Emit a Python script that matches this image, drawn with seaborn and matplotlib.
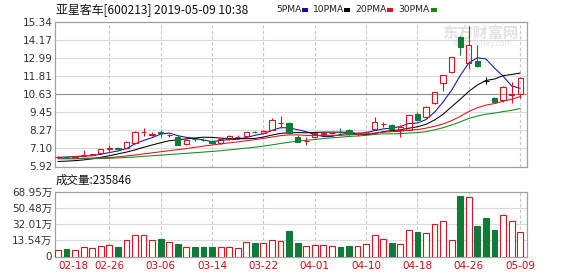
import numpy as np
import pandas as pd
import matplotlib
matplotlib.use("Agg")
import matplotlib.pyplot as plt
from matplotlib.patches import Rectangle
import seaborn as sns

sns.set_theme(style="white")
plt.rcParams["font.family"] = ["DejaVu Sans", "Noto Sans CJK SC"]

# ---------------- data ----------------
dates = ['02-18','02-19','02-20','02-21','02-22','02-25','02-26','02-27','02-28','03-01',
         '03-04','03-05','03-06','03-07','03-08','03-11','03-12','03-13','03-14','03-15',
         '03-18','03-19','03-20','03-21','03-22','03-25','03-26','03-27','03-28','03-29',
         '04-01','04-02','04-03','04-04','04-08','04-09','04-10','04-11','04-12','04-15',
         '04-16','04-17','04-18','04-19','04-22','04-23','04-24','04-25','04-26','04-29',
         '04-30','05-06','05-07','05-08','05-09']

open_ = [6.54,6.56,6.56,6.62,6.68,6.77,7.08,7.12,7.10,7.47,
         8.17,8.00,8.14,7.95,7.82,7.38,7.70,7.66,7.60,7.43,
         7.69,7.85,7.90,8.17,8.08,8.30,8.75,8.77,7.82,7.58,
         7.86,8.05,8.10,8.17,8.30,8.03,8.15,8.34,8.68,8.62,
         8.30,8.32,9.34,9.15,10.06,11.37,12.09,14.38,12.68,12.81,
         11.50,10.39,10.26,10.58,10.65]
high = [6.62,6.60,6.62,6.99,6.76,7.06,7.31,7.20,7.58,8.24,
        8.41,8.15,8.30,8.05,7.95,7.70,7.80,7.75,7.66,7.72,
        7.95,7.96,8.20,8.25,8.30,9.05,9.22,8.85,7.95,7.83,
        8.12,8.15,8.18,8.41,8.35,8.20,8.25,9.12,8.84,8.70,
        8.60,9.30,9.47,9.85,10.78,11.89,13.08,14.45,15.10,13.86,
        11.76,10.45,11.14,11.44,11.75]
low = [6.50,6.50,6.52,6.60,6.64,6.74,6.88,7.00,7.06,7.45,
       7.90,7.90,7.86,7.85,7.30,7.35,7.55,7.55,7.40,7.40,
       7.65,7.78,7.85,8.08,8.05,8.28,8.43,8.02,7.50,7.33,
       7.80,8.00,8.05,7.97,8.00,7.90,8.10,8.30,8.47,8.30,
       7.86,8.28,8.90,9.10,10.00,10.85,12.00,13.20,12.29,12.40,
       11.30,10.13,10.13,10.06,10.39]
close = [6.55,6.54,6.60,6.70,6.72,7.03,7.10,7.08,7.53,8.19,
         8.19,8.03,8.12,7.97,7.32,7.64,7.69,7.64,7.43,7.69,
         7.90,7.86,8.15,8.15,8.25,8.95,8.77,8.08,7.53,7.60,
         8.08,8.08,8.12,8.15,8.04,8.08,8.19,8.84,8.69,8.36,
         8.52,9.25,8.95,9.80,10.78,11.89,13.07,13.73,13.86,12.48,
         11.50,10.13,11.11,10.65,11.70]

ma5 = [6.52,6.54,6.57,6.60,6.62,6.72,6.83,6.93,7.09,7.39,7.62,7.80,8.03,8.10,7.93,7.82,7.75,7.65,
       7.54,7.62,7.67,7.70,7.81,7.95,8.06,8.27,8.45,8.44,8.32,8.19,8.01,7.87,7.88,8.01,8.09,8.09,
       8.12,8.26,8.37,8.43,8.52,8.73,8.75,8.98,9.46,10.13,10.90,11.85,12.67,13.01,12.93,12.34,
       11.82,11.17,11.02]
ma10 = [6.25,6.27,6.30,6.35,6.42,6.52,6.62,6.74,6.86,7.00,7.17,7.32,7.47,7.60,7.66,7.72,7.78,7.83,
        7.82,7.77,7.74,7.73,7.73,7.75,7.84,7.97,8.08,8.12,8.13,8.12,8.14,8.16,8.16,8.16,8.14,8.05,
        8.00,8.07,8.19,8.26,8.31,8.42,8.51,8.67,8.95,9.33,9.82,10.30,10.82,11.23,11.53,11.62,
        11.84,11.92,12.01]
ma20 = [6.45,6.45,6.45,6.46,6.47,6.48,6.50,6.55,6.61,6.67,6.74,6.81,6.88,6.95,7.02,7.09,7.17,7.25,
        7.32,7.39,7.46,7.52,7.60,7.67,7.75,7.84,7.93,7.98,7.98,7.95,7.94,7.95,7.95,7.95,7.99,8.01,
        8.04,8.10,8.16,8.19,8.22,8.29,8.33,8.42,8.54,8.69,8.91,9.19,9.50,9.75,9.92,10.02,10.17,
        10.30,10.48]
ma30 = [6.42,6.42,6.42,6.43,6.43,6.44,6.45,6.48,6.51,6.54,6.58,6.62,6.66,6.70,6.74,6.78,6.82,6.86,
        6.90,6.95,7.00,7.06,7.12,7.18,7.25,7.33,7.42,7.50,7.57,7.63,7.68,7.74,7.79,7.83,7.88,7.91,
        7.95,8.01,8.05,8.05,8.06,8.10,8.13,8.19,8.31,8.45,8.63,8.83,9.05,9.21,9.33,9.40,9.50,
        9.58,9.70]

volume = [2.8,3.1,2.8,6.2,4.3,7.4,8.5,6.2,14.3,19.3,
          20.1,14.3,15.5,12.0,8.9,6.2,6.2,6.2,5.5,6.2,
          6.2,5.0,11.2,10.1,10.1,14.3,13.2,23.9,10.4,6.6,
          7.7,7.7,6.6,5.4,6.6,6.6,8.9,19.3,14.7,10.4,
          8.9,25.1,22.8,21.6,32.8,35.4,14.3,64.3,62.8,29.7,
          38.6,25.9,42.4,35.4,23.58]

price_ticks = [5.92, 7.10, 8.27, 9.45, 10.63, 11.81, 12.99, 14.17, 15.34]
vol_ticks = [-4.93, 13.54, 32.01, 50.48, 68.95]
vol_tick_labels = ['0', '13.54万', '32.01万', '50.48万', '68.95万']
title_text = '亚星客车[600213] 2019-05-09 10:38'
vol_text = '成交量:235846'
ma_names = ['5PMA', '10PMA', '20PMA', '30PMA']

# ---------------- styling ----------------
RED = '#e0101e'
GREEN = '#107a38'
MA_COLORS = ['#1010b8', '#000000', '#e01020', '#138a1a']
GRID = '#dadada'
FRAME = '#a0a0a0'

df = pd.DataFrame(dict(day=np.arange(len(dates)), date=dates, open=open_, high=high,
                       low=low, close=close, vol=volume,
                       MA5=ma5, MA10=ma10, MA20=ma20, MA30=ma30))
o = df['open'].values; c = df['close'].values
up = c > o
flat = np.isclose(c, o)
ccol = np.where(flat, 'black', np.where(up, RED, GREEN))
face = np.where(up | flat, 'none', ccol)
top = np.maximum(o, c); bot = np.minimum(o, c)

W, H = 578, 276
fig = plt.figure(figsize=(W / 100, H / 100), dpi=100)
fig.patch.set_facecolor('white')
axp = fig.add_axes([55 / W, 1 - 166.5 / H, 472 / W, 144.5 / H])
axv = fig.add_axes([55 / W, 1 - 256.5 / H, 472 / W, 64.5 / H])

xt = list(range(0, len(dates), 6))
XL = (-0.35, 54.8)

for ax in (axp, axv):
    ax.set_xlim(*XL)
    for t in xt[1:]:
        ax.axvline(t, color='#c8c8c8', lw=0.8, ls=(0, (3, 2)), zorder=0)
    for s in ax.spines.values():
        s.set_color(FRAME)
        s.set_linewidth(0.9)
    ax.tick_params(length=0, labelsize=7.5, colors='#333333', pad=2)

# watermark (behind the marks)
cjk = ['Noto Sans CJK SC', 'DejaVu Sans']
axp.text(0.90, 0.925, '东方财富网', transform=axp.transAxes, fontsize=11, family=cjk,
         color='#e2e2e2', va='center', ha='center', fontweight='bold', zorder=1)
axp.text(0.905, 0.848, 'eastmoney.com', transform=axp.transAxes, fontsize=5.5,
         color='#e4e4e4', va='center', ha='center', zorder=1)

# price panel
axp.set_ylim(5.92, 15.34)
axp.set_yticks(price_ticks)
axp.set_yticklabels([f'{v:.2f}' for v in price_ticks])
for v in price_ticks[1:-1]:
    axp.axhline(v, color='#8c8c8c' if v == 10.63 else GRID, lw=0.8, zorder=0)
axp.set_xticks([])

for name, col in zip(['MA5', 'MA10', 'MA20', 'MA30'], MA_COLORS):
    sns.lineplot(data=df, x='day', y=name, ax=axp, color=col, lw=0.75, zorder=2)

axp.vlines(df['day'], top, df['high'], colors=ccol, lw=0.8, zorder=3)
axp.vlines(df['day'], df['low'], bot, colors=ccol, lw=0.8, zorder=3)
axp.bar(df['day'], top - bot, bottom=bot, width=0.62, color=face, edgecolor=ccol,
        linewidth=0.8, zorder=4)
axp.set_xlabel(''); axp.set_ylabel('')
axp.set_xlim(*XL)

# volume panel
VBASE = vol_ticks[0]
axv.set_ylim(VBASE, 68.95)
axv.set_yticks(vol_ticks)
axv.set_yticklabels(vol_tick_labels)
for v in vol_ticks[1:-1]:
    axv.axhline(v, color=GRID, lw=0.8, zorder=0)
vcol = np.where(up, RED, GREEN)
vface = np.where(up, 'white', GREEN)
axv.bar(df['day'], df['vol'] - VBASE, bottom=VBASE, width=0.68, color=vface,
        edgecolor=vcol, linewidth=0.8, zorder=3)
axv.set_xticks(xt)
axv.set_xticklabels([dates[i] for i in xt])
axv.tick_params(axis='x', colors='#cc1010', pad=3.5)
axv.get_xticklabels()[0].set_horizontalalignment('left')
axv.set_xlim(*XL)

# texts
fig.text(56 / W, 1 - 10 / H, title_text, fontsize=8.6, family=cjk, color='#111111', va='center')
fig.text(56 / W, 1 - 180 / H, vol_text, fontsize=8.3, family=cjk, color='#111111', va='center')

lx = [276, 313, 355, 398]
sq = [302, 344, 387, 431]
for name, col, x0, s0 in zip(ma_names, MA_COLORS, lx, sq):
    fig.text(x0 / W, 1 - 10 / H, name, fontsize=6.6, color='#222222', va='center')
    fig.patches.append(Rectangle((s0 / W, 1 - 12 / H), 6 / W, 4 / H, transform=fig.transFigure,
                                 facecolor=col, edgecolor='none'))

fig.savefig('out.png', dpi=100, facecolor='white')
